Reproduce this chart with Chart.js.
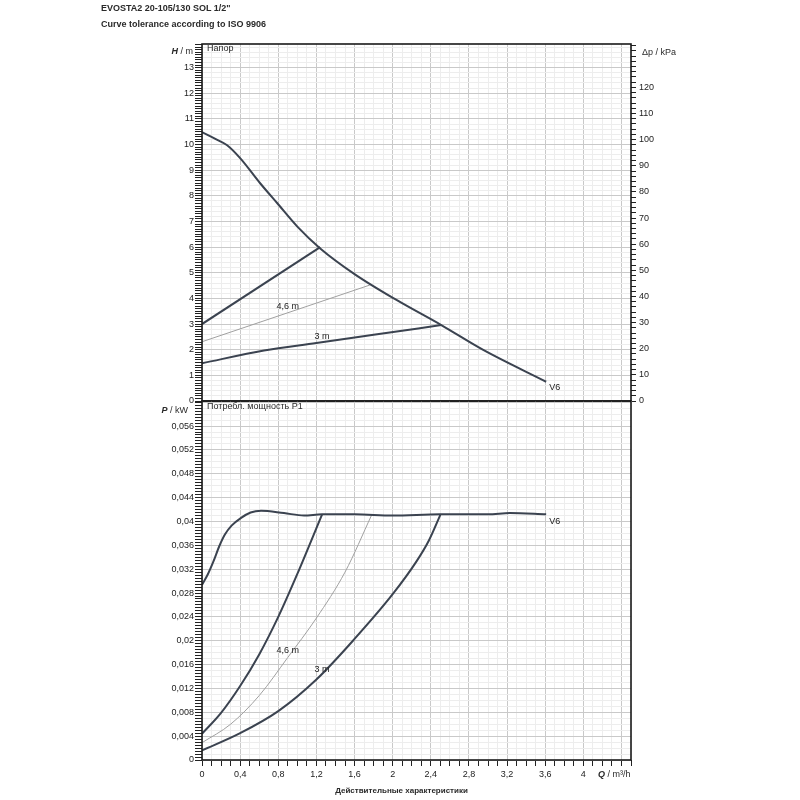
<!DOCTYPE html>
<html lang="ru">
<head>
  <meta charset="UTF-8" />
  <title>EVOSTA2 20-105/130 SOL 1/2"</title>
  <script src="https://cdn.jsdelivr.net/npm/chart.js@4.4.1/dist/chart.umd.min.js"></script>
  <style>
    * {
      margin: 0;
      padding: 0;
    }

    body {
      width: 800px;
      height: 800px;
      background: #fff;
      overflow: hidden;
      font-family: "Liberation Sans", Arial, sans-serif;
      color: #2a2a2a;
    }

    .sheet {
      position: relative;
      width: 800px;
      height: 800px;
    }

    canvas {
      position: absolute;
      left: 0;
    }

    #headChart {
      top: 0;
    }

    #powerChart {
      top: 380px;
    }

    .txt {
      position: absolute;
      font-size: 9px;
      line-height: 1;
      white-space: nowrap;
    }

    .b {
      font-weight: bold;
    }
  </style>
</head>

<body>
  <div class="sheet">
    <canvas id="headChart" width="800" height="420"></canvas>
    <canvas id="powerChart" width="800" height="420"></canvas>

    <div class="txt b" style="left:101px; top:4px;">EVOSTA2 20-105/130 SOL 1/2"</div>
    <div class="txt b" style="left:101px; top:20px;">Curve tolerance according to ISO 9906</div>

    <div class="txt" style="right:607px; top:47px;"><b><i>H</i></b> / m</div>
    <div class="txt" style="left:207px; top:44px;">Напор</div>
    <div class="txt" style="left:642px; top:48px;">Δp / kPa</div>

    <div class="txt" style="right:612px; top:406px;"><b><i>P</i></b> / kW</div>
    <div class="txt" style="left:207px; top:402px;">Потребл. мощность P1</div>

    <div class="txt" style="left:598px; top:770px;"><b><i>Q</i></b> / m³/h</div>
    <div class="txt b" style="left:335px; top:787px; width:133px; text-align:center; font-size:8px;">Действительные характеристики</div>
  </div>

  <script>
    // axis labels
    const qMajor = [0, 0.4, 0.8, 1.2, 1.6, 2, 2.4, 2.8, 3.2, 3.6, 4];
    const qLabels = ["0", "0,4", "0,8", "1,2", "1,6", "2", "2,4", "2,8", "3,2", "3,6", "4"];
    const hMajor = [0, 1, 2, 3, 4, 5, 6, 7, 8, 9, 10, 11, 12, 13];
    const kpaMajor = [0, 10, 20, 30, 40, 50, 60, 70, 80, 90, 100, 110, 120];
    const pMajor = [0, 0.004, 0.008, 0.012, 0.016, 0.02, 0.024, 0.028, 0.032, 0.036, 0.04, 0.044, 0.048, 0.052, 0.056];
    const pLabels = ["0", "0,004", "0,008", "0,012", "0,016", "0,02", "0,024", "0,028", "0,032", "0,036", "0,04", "0,044", "0,048", "0,052", "0,056"];

    // head curves, Q in m3/h, H in m
    const v6HeadQ = [0, 0.14, 0.26, 0.4, 0.61, 0.79, 1.0, 1.24, 1.6, 2.04, 2.51, 2.95, 3.61];
    const v6HeadH = [10.48, 10.22, 9.98, 9.47, 8.49, 7.71, 6.8, 5.95, 4.95, 3.94, 2.96, 1.99, 0.75];
    const pp6HeadQ = [0, 1.24];
    const pp6HeadH = [3.0, 6.0];
    const pp46HeadQ = [0, 1.76];
    const pp46HeadH = [2.31, 4.52];
    const pp3HeadQ = [0, 0.65, 1.2, 1.8, 2.51];
    const pp3HeadH = [1.47, 1.97, 2.26, 2.58, 2.96];

    // power curves, P1 in kW
    const v6PowQ = [0, 0.06, 0.12, 0.18, 0.24, 0.31, 0.41, 0.51, 0.62, 0.86, 1.07, 1.26, 1.6, 2.0, 2.5, 3.0, 3.23, 3.61];
    const v6PowP = [0.0294, 0.0311, 0.0333, 0.0358, 0.0378, 0.0393, 0.0406, 0.0415, 0.0418, 0.0414, 0.041, 0.0412, 0.0412, 0.041, 0.0412, 0.0412, 0.0414, 0.0412];
    const pp6PowQ = [0, 0.2, 0.4, 0.6, 0.8, 1.0, 1.26];
    const pp6PowP = [0.0044, 0.0079, 0.0124, 0.0177, 0.024, 0.0312, 0.0412];
    const pp46PowQ = [0, 0.3, 0.6, 0.9, 1.2, 1.5, 1.78];
    const pp46PowP = [0.0029, 0.006, 0.0108, 0.0172, 0.0238, 0.0315, 0.0411];
    const pp3PowQ = [0, 0.4, 0.8, 1.2, 1.6, 2.0, 2.25, 2.38, 2.5];
    const pp3PowP = [0.0016, 0.0045, 0.0082, 0.0135, 0.0203, 0.0278, 0.0333, 0.0368, 0.0411];

    const DARK = "#3b4350";
    const THIN = "#a0a0a0";
    const MAJOR = "#c9c9c9";
    const MINOR = "#ededed";
    const INK = "#222";
    const font = { family: "'Liberation Sans', Arial, sans-serif", size: 9 };

    const zip = (xs, ys) => xs.map((x, i) => ({ x: x, y: ys[i] }));
    const steps = (count, mul, div) => Array.from({ length: count + 1 }, (_, i) => Math.round(i * mul) / div);
    const isMult = (v, m) => Math.abs(v / m - Math.round(v / m)) < 1e-6;

    function curve(points, thick, smooth) {
      return {
        data: points,
        borderColor: thick ? DARK : THIN,
        borderWidth: thick ? 2 : 1,
        pointRadius: 0,
        fill: false,
        cubicInterpolationMode: smooth ? "monotone" : "default",
        tension: 0,
      };
    }

    function gridPaint(minor, major) {
      return (ctx) => {
        const v = ctx.tick ? ctx.tick.value : 0;
        if (isMult(v, major)) return MAJOR;
        if (isMult(v, minor)) return MINOR;
        return "rgba(0,0,0,0)";
      };
    }

    function labelFrom(values, labels) {
      return (v) => {
        const i = values.findIndex((m) => Math.abs(m - v) < 1e-7);
        return i < 0 ? "" : labels[i];
      };
    }

    const qSteps = steps(45, 1, 10);            // 0 .. 4.5 by 0.1
    const hSteps = steps(139, 1, 10);           // 0 .. 13.9 by 0.1
    const kpaSteps = steps(68, 2, 1);           // 0 .. 136 by 2
    const pSteps = steps(120, 5, 10000);        // 0 .. 0.06 by 0.0005

    const framePlugin = {
      id: "frame",
      afterDraw(chart) {
        const a = chart.chartArea;
        const c = chart.ctx;
        c.save();
        c.strokeStyle = "#1a1a1a";
        c.lineWidth = 1.6;
        c.strokeRect(a.left, a.top, a.right - a.left, a.bottom - a.top);
        c.restore();
      },
    };

    const notesPlugin = {
      id: "notes",
      afterDatasetsDraw(chart, args, opts) {
        const c = chart.ctx;
        const xs = chart.scales.x;
        const ys = chart.scales.y;
        c.save();
        c.font = "9px 'Liberation Sans', Arial, sans-serif";
        c.fillStyle = INK;
        c.textAlign = "center";
        c.textBaseline = "middle";
        (opts.items || []).forEach((n) => {
          c.fillText(n.text, xs.getPixelForValue(n.x), ys.getPixelForValue(n.y));
        });
        c.restore();
      },
    };

    const xAxis = (showLabels) => ({
      type: "linear",
      min: 0,
      max: 4.5,
      afterBuildTicks: (s) => { s.ticks = qSteps.map((v) => ({ value: v })); },
      afterFit: (s) => { s.height = showLabels ? 40 : 0; },
      ticks: {
        display: showLabels,
        autoSkip: false,
        maxRotation: 0,
        padding: 3,
        font: font,
        color: INK,
        callback: labelFrom(qMajor, qLabels),
      },
      grid: {
        color: gridPaint(0.1, 0.4),
        drawTicks: showLabels,
        tickLength: 6,
        tickColor: "#222",
      },
      border: { display: false },
    });

    new Chart(document.getElementById("headChart"), {
      type: "line",
      data: {
        datasets: [
          curve(zip(v6HeadQ, v6HeadH), true, true),
          curve(zip(pp6HeadQ, pp6HeadH), true, false),
          curve(zip(pp46HeadQ, pp46HeadH), false, false),
          curve(zip(pp3HeadQ, pp3HeadH), true, true),
        ],
      },
      options: {
        responsive: false,
        animation: false,
        layout: { padding: { top: 44, bottom: 19, left: 0, right: 0 } },
        plugins: {
          legend: { display: false },
          tooltip: { enabled: false },
          notes: {
            items: [
              { text: "4,6 m", x: 0.9, y: 3.67 },
              { text: "3 m", x: 1.26, y: 2.5 },
              { text: "V6", x: 3.7, y: 0.51 },
            ],
          },
        },
        scales: {
          x: xAxis(false),
          y: {
            type: "linear",
            position: "left",
            min: 0,
            max: 13.92,
            afterBuildTicks: (s) => { s.ticks = hSteps.map((v) => ({ value: v })); },
            afterFit: (s) => { s.width = 202; },
            ticks: {
              autoSkip: false,
              padding: 1,
              font: font,
              color: INK,
              callback: labelFrom(hMajor, hMajor.map(String)),
            },
            grid: { color: gridPaint(0.2, 1), tickLength: 7, tickColor: "#222" },
            border: { display: false },
          },
          kpa: {
            type: "linear",
            position: "right",
            min: 0,
            max: 136.6,
            afterBuildTicks: (s) => { s.ticks = kpaSteps.map((v) => ({ value: v })); },
            afterFit: (s) => { s.width = 169; },
            ticks: {
              autoSkip: false,
              padding: 3,
              font: font,
              color: INK,
              callback: labelFrom(kpaMajor, kpaMajor.map(String)),
            },
            grid: { drawOnChartArea: false, tickLength: 5, tickColor: "#222" },
            border: { display: false },
          },
        },
      },
      plugins: [framePlugin, notesPlugin],
    });

    new Chart(document.getElementById("powerChart"), {
      type: "line",
      data: {
        datasets: [
          curve(zip(v6PowQ, v6PowP), true, true),
          curve(zip(pp6PowQ, pp6PowP), true, true),
          curve(zip(pp46PowQ, pp46PowP), false, true),
          curve(zip(pp3PowQ, pp3PowP), true, true),
        ],
      },
      options: {
        responsive: false,
        animation: false,
        layout: { padding: { top: 21, bottom: 0, left: 0, right: 169 } },
        plugins: {
          legend: { display: false },
          tooltip: { enabled: false },
          notes: {
            items: [
              { text: "4,6 m", x: 0.9, y: 0.0183 },
              { text: "3 m", x: 1.26, y: 0.0151 },
              { text: "V6", x: 3.7, y: 0.04 },
            ],
          },
        },
        scales: {
          x: xAxis(true),
          y: {
            type: "linear",
            position: "left",
            min: 0,
            max: 0.0602,
            afterBuildTicks: (s) => { s.ticks = pSteps.map((v) => ({ value: v })); },
            afterFit: (s) => { s.width = 202; },
            ticks: {
              autoSkip: false,
              padding: 1,
              font: font,
              color: INK,
              callback: labelFrom(pMajor, pLabels),
            },
            grid: { color: gridPaint(0.001, 0.004), tickLength: 7, tickColor: "#222" },
            border: { display: false },
          },
        },
      },
      plugins: [framePlugin, notesPlugin],
    });
  </script>
</body>

</html>
